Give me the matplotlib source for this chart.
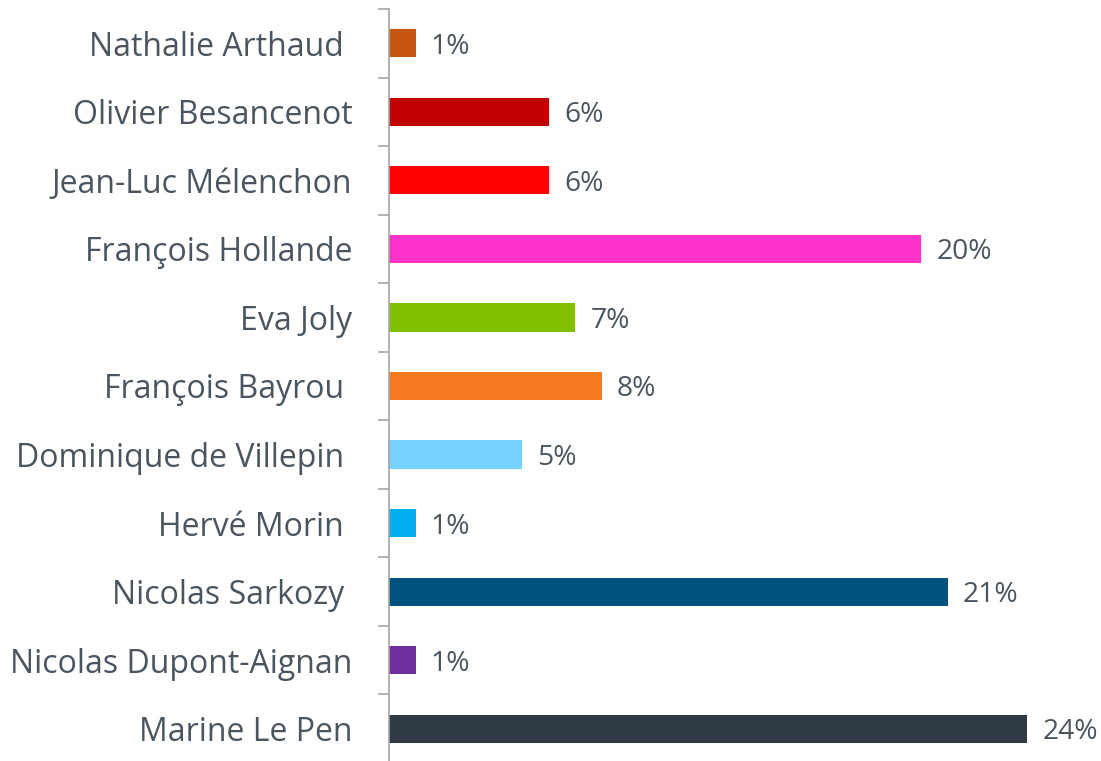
import matplotlib
matplotlib.use("Agg")
import matplotlib.pyplot as plt
import numpy as np

candidates = ["Nathalie Arthaud ", "Olivier Besancenot", "Jean-Luc Mélenchon", "François Hollande",
              "Eva Joly", "François Bayrou ", "Dominique de Villepin ", "Hervé Morin ",
              "Nicolas Sarkozy ", "Nicolas Dupont-Aignan", "Marine Le Pen"]
values = [1, 6, 6, 20, 7, 8, 5, 1, 21, 1, 24]
value_labels = ["1%", "6%", "6%", "20%", "7%", "8%", "5%", "1%", "21%", "1%", "24%"]
colors = ["#C8560F", "#C00000", "#FF0000", "#FF33CC", "#80C000", "#F57A20",
          "#75D1FF", "#00B0F0", "#00527F", "#7030A0", "#2F3A44"]

plt.rcParams['font.family'] = ['Open Sans', 'DejaVu Sans']
W, H = 1101, 761
fig = plt.figure(figsize=(W / 100, H / 100), dpi=100)
ax = fig.add_axes([389 / W, -2 / H, (W - 389) / W, 754 / H])

n = len(candidates)
y = np.arange(n)
ax.barh(y, values, height=0.41, color=colors)
ax.set_ylim(n - 0.5, -0.5)
ax.set_xlim(0, (W - 389) / 26.6)

text_color = "#4A5560"
for yi, v, lab in zip(y, values, value_labels):
    ax.annotate(lab, (v, yi), xytext=(11, -2.5), textcoords="offset points",
                va="center", ha="left", fontsize=20.3, color=text_color)

ax.set_yticks(y)
ax.set_yticklabels(candidates, fontsize=23, color=text_color)
ax.tick_params(axis="y", which="major", length=0, pad=26.5)
ax.set_yticks(np.arange(n + 1) - 0.5, minor=True)
ax.tick_params(axis="y", which="minor", length=8, width=1.2, color="#A6A6A6", direction="out")
ax.set_xticks([])
for s in ["top", "right", "bottom"]:
    ax.spines[s].set_visible(False)
ax.spines["left"].set_color("#A6A6A6")
ax.spines["left"].set_linewidth(1.2)

fig.savefig("out.png", dpi=100)
